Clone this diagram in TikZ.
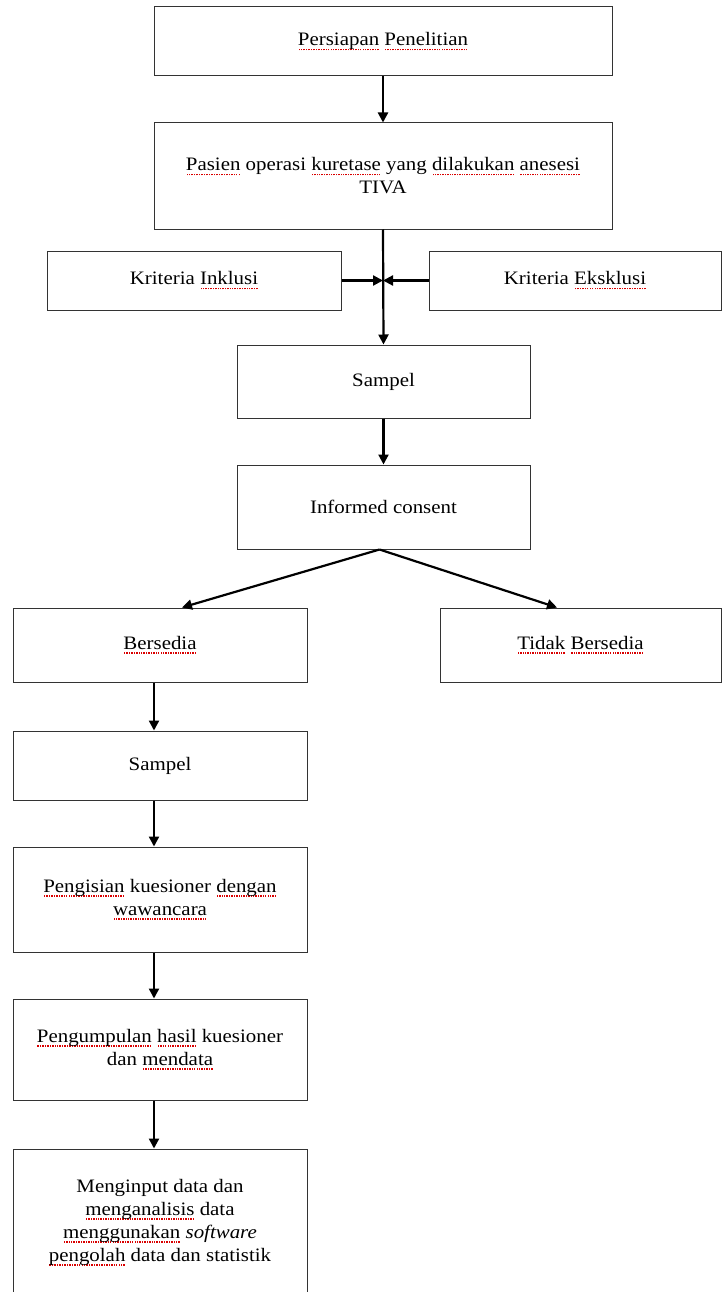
\documentclass[tikz,border=0pt]{standalone}
\usepackage{fontspec}
\setmainfont{Liberation Serif}[FakeStretch=1.1]
\usetikzlibrary{arrows.meta}
\newlength\sqw
\newcommand\sq[1]{\settowidth\sqw{#1}\leavevmode\rlap{\raisebox{-4.5pt}{\color{red!85!black}\hbox to\sqw{\xleaders\hbox to 2.4pt{\hss\rule{1.4pt}{1.4pt}\hss}\hfill}}}#1}
\begin{document}
\begin{tikzpicture}[x=1pt,y=1pt,
  box/.style={draw=black!80, line width=1pt, inner sep=0pt, align=center,
    font=\fontsize{19}{23}\selectfont},
  arr/.style={line width=2.2pt, -{Triangle[length=10pt,width=10pt]}}]
\useasboundingbox (0,0) rectangle (722,-1292);
\begin{scope}
\clip (0,0) rectangle (722,-1292);
\node[box, minimum width=458pt, minimum height=69pt] (b1) at (383,-41.5) {\sq{Persiapan} \sq{Penelitian}};
\node[box, minimum width=458pt, minimum height=106pt] (b2) at (383,-176) {\sq{Pasien} operasi \sq{kuretase} yang \sq{dilakukan} \sq{anesesi}\\TIVA};
\node[box, minimum width=294pt, minimum height=59pt] (inc) at (194,-280.5) {Kriteria \sq{Inklusi}};
\node[box, minimum width=292pt, minimum height=59pt] (exc) at (575,-280.5) {Kriteria \sq{Eksklusi}};
\node[box, minimum width=293pt, minimum height=73pt] (s1) at (383.5,-381.5) {Sampel};
\node[box, minimum width=293pt, minimum height=84pt] (ic) at (383.5,-507) {Informed consent};
\node[box, minimum width=294pt, minimum height=74pt] (ber) at (160,-645) {\sq{Bersedia}};
\node[box, minimum width=281pt, minimum height=74pt] (tb) at (580.5,-645) {\sq{Tidak} \sq{Bersedia}};
\node[box, minimum width=294pt, minimum height=69pt] (s2) at (160,-765.5) {Sampel};
\node[box, minimum width=294pt, minimum height=105pt] (pg) at (160,-899.5) {\sq{Pengisian} kuesioner \sq{dengan}\\\sq{wawancara}};
\node[box, minimum width=294pt, minimum height=101pt] (pk) at (160,-1049.5) {\sq{Pengumpulan} \sq{hasil} kuesioner\\dan \sq{mendata}};
\node[box, minimum width=294pt, minimum height=147pt] (mi) at (160,-1222.5) {Menginput data dan\\\sq{menganalisis} data\\\sq{menggunakan} \textit{software}\\\sq{pengolah} data dan statistik};
\end{scope}
\coordinate (j) at (383,-280.5);
\draw[arr] (b1.south) -- (b2.north);
\draw[arr] (b2.south) -- (s1.north);
\draw[arr] (inc.east) -- (j);
\draw[arr] (exc.west) -- (j);
\draw[arr] (s1.south) -- (ic.north);
\draw[arr] ([xshift=-4pt]ic.south) -- ([xshift=22pt]ber.north);
\draw[arr] ([xshift=-4pt]ic.south) -- ([xshift=-23.5pt]tb.north);
\draw[arr] ([xshift=-6pt]ber.south) -- ([xshift=-6pt]s2.north);
\draw[arr] ([xshift=-6pt]s2.south) -- ([xshift=-6pt]pg.north);
\draw[arr] ([xshift=-6pt]pg.south) -- ([xshift=-6pt]pk.north);
\draw[arr] ([xshift=-6pt]pk.south) -- ([xshift=-6pt]mi.north);
\end{tikzpicture}
\end{document}
